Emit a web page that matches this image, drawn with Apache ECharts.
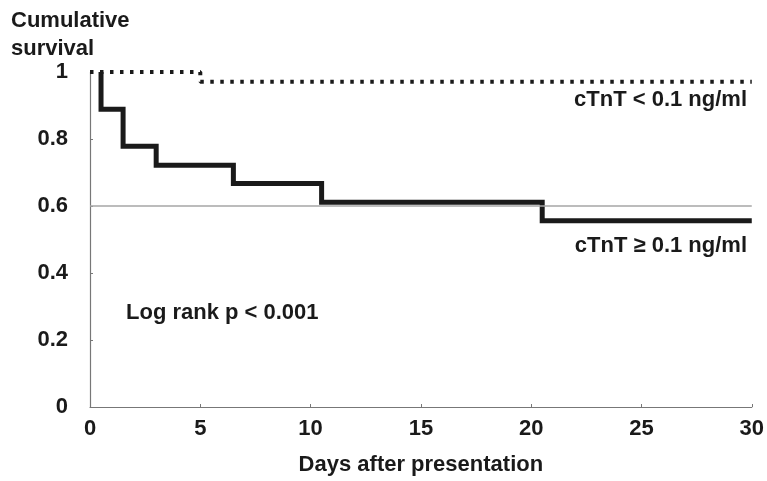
<!DOCTYPE html>
<html>
<head>
<meta charset="utf-8">
<script src="https://cdn.jsdelivr.net/npm/echarts@6/dist/echarts.min.js"></script>
<style>
html,body{margin:0;padding:0;background:#fff;}
#chart{width:767px;height:481px;}
</style>
</head>
<body>
<div id="chart"></div>
<script>
// Kaplan-Meier data (day, cumulative survival)
const highDays = [0.5, 0.5, 1.5, 3, 6.5, 10.5, 20.5, 30];
const highSurv = [1, 0.889, 0.778, 0.722, 0.667, 0.611, 0.556, 0.556];
const lowDays = [0, 5, 30];
const lowSurv = [1, 0.971, 0.971];
const xTicks = [0, 5, 10, 15, 20, 25, 30];
const yTicks = [0, 0.2, 0.4, 0.6, 0.8, 1];
const refLine = 0.6;
const labelLow = 'cTnT < 0.1 ng/ml';
const labelHigh = 'cTnT \u2265 0.1 ng/ml';
const labelStat = 'Log rank p < 0.001';
const yTitle = 'Cumulative\nsurvival';
const xTitle = 'Days after presentation';

const FONT = '"Liberation Sans", Arial, sans-serif';
const TXT = '#1a1a1a';

const chart = echarts.init(document.getElementById('chart'), null, {renderer: 'canvas'});
const option = {
  animation: false,
  backgroundColor: '#ffffff',
  title: {
    text: yTitle,
    left: 6, top: 2,
    textStyle: {fontFamily: FONT, fontWeight: 'bold', fontSize: 22, lineHeight: 28, color: TXT}
  },
  grid: {left: 90, right: 13, top: 72, bottom: 65, containLabel: false},
  xAxis: {
    type: 'value', min: xTicks[0], max: xTicks[xTicks.length - 1], interval: 5,
    name: xTitle, nameLocation: 'middle', nameGap: 47,
    nameTextStyle: {fontFamily: FONT, fontWeight: 'bold', fontSize: 22, color: TXT},
    axisLine: {show: true, lineStyle: {color: '#777', width: 1.2}},
    axisTick: {show: true, inside: true, length: 3, lineStyle: {color: '#777'}},
    axisLabel: {fontFamily: FONT, fontWeight: 'bold', fontSize: 22, color: TXT, margin: 11},
    splitLine: {show: false}
  },
  yAxis: {
    type: 'value', min: yTicks[0], max: yTicks[yTicks.length - 1], interval: 0.2,
    axisLine: {show: true, lineStyle: {color: '#777', width: 1.2}},
    axisTick: {show: true, inside: true, length: 3, lineStyle: {color: '#777'}},
    axisLabel: {fontFamily: FONT, fontWeight: 'bold', fontSize: 22, color: TXT, margin: 22,
      formatter: v => String(Math.round(v * 10) / 10)},
    splitLine: {show: false}
  },
  series: [
    {
      name: 'high', type: 'line', step: 'end', symbol: 'none',
      data: highDays.map((d, i) => [d, highSurv[i]]),
      lineStyle: {color: '#1a1a1a', width: 5, cap: 'butt', join: 'miter'},
      markLine: {
        silent: true, symbol: ['none', 'none'], label: {show: false},
        lineStyle: {color: '#a6a6a6', width: 1.5, type: 'solid'},
        data: [{yAxis: refLine}]
      },
      z: 3
    },
    {
      name: 'low', type: 'line', step: 'end', symbol: 'none',
      data: lowDays.map((d, i) => [d, lowSurv[i]]),
      lineStyle: {color: '#1a1a1a', width: 4, type: [3.5, 6.5], cap: 'butt'},
      z: 4
    }
  ],
  graphic: [
    {type: 'text', right: 20, top: 89,
      style: {text: labelLow, font: 'bold 22px ' + FONT, fill: TXT}},
    {type: 'text', right: 20, top: 235,
      style: {text: labelHigh, font: 'bold 22px ' + FONT, fill: TXT}},
    {type: 'text', left: 126, top: 302,
      style: {text: labelStat, font: 'bold 22px ' + FONT, fill: TXT}}
  ]
};
chart.setOption(option);
</script>
</body>
</html>
